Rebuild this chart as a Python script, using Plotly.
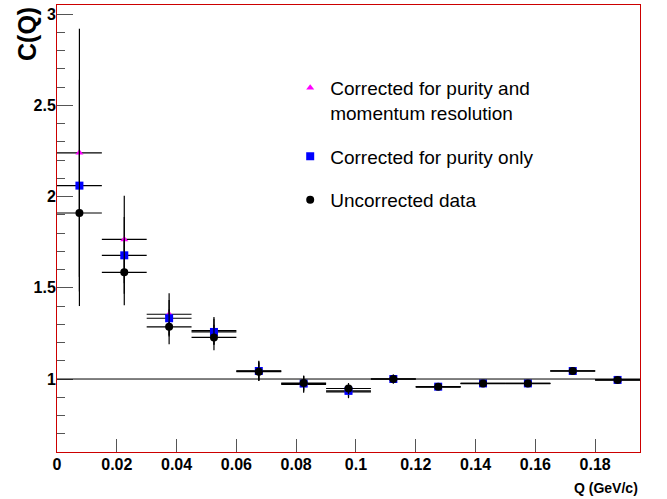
import plotly.graph_objects as go

# Bin centres (GeV/c) and half bin width
q_centers = [0.0075, 0.0225, 0.0375, 0.0525, 0.0675, 0.0825, 0.0975,
             0.1125, 0.1275, 0.1425, 0.1575, 0.1725, 0.1875]
q_halfwidth = [0.0075] * 13

# Corrected for purity and momentum resolution
c_full = [2.24, 1.765, 1.355, 1.265, 1.045, 0.970, 0.930, 1.000, 0.955, 0.975, 0.975, 1.045, 0.995]
e_full = [0.68, 0.24, 0.115, 0.075, 0.055, 0.045, 0.035, 0.025, 0.010, 0.012, 0.012, 0.012, 0.010]

# Corrected for purity only
c_purity = [2.06, 1.678, 1.333, 1.258, 1.044, 0.975, 0.935, 1.000, 0.958, 0.976, 0.976, 1.044, 0.995]
e_purity = [0.58, 0.21, 0.100, 0.072, 0.052, 0.043, 0.032, 0.024, 0.009, 0.011, 0.011, 0.011, 0.010]

# Uncorrected data
c_raw = [1.91, 1.585, 1.286, 1.228, 1.040, 0.978, 0.948, 1.000, 0.958, 0.976, 0.976, 1.044, 0.995]
e_raw = [0.51, 0.18, 0.095, 0.070, 0.050, 0.040, 0.030, 0.022, 0.008, 0.010, 0.010, 0.010, 0.009]

series_names = ["Corrected for purity and<br>momentum resolution",
                "Corrected for purity only",
                "Uncorrected data"]

x_tickvals = [0, 0.02, 0.04, 0.06, 0.08, 0.1, 0.12, 0.14, 0.16, 0.18]
x_ticktext = ["0", "0.02", "0.04", "0.06", "0.08", "0.1", "0.12", "0.14", "0.16", "0.18"]
y_tickvals = [1, 1.5, 2, 2.5, 3]
y_ticktext = ["1", "1.5", "2", "2.5", "3"]

FONT = "Liberation Sans, Arial, sans-serif"

fig = go.Figure()

styles = [
    dict(symbol="triangle-up", color="#ff00ff", size=7),
    dict(symbol="square", color="#0000ff", size=8),
    dict(symbol="circle", color="#000000", size=8),
]
data = [(c_full, e_full), (c_purity, e_purity), (c_raw, e_raw)]

for i, (name, (yv, ev), st) in enumerate(zip(series_names, data, styles)):
    fig.add_trace(go.Scatter(
        x=q_centers, y=yv, mode="markers", name=name, legendgroup=f"g{i}",
        marker=dict(symbol=st["symbol"], color=st["color"], size=st["size"], line=dict(width=0)),
        error_y=dict(type="data", array=ev, color="black", thickness=1.2, width=0),
        error_x=dict(type="data", array=q_halfwidth, color="black", thickness=1.2, width=0),
    ))

# Reference line at C(Q) = 1
fig.add_shape(type="line", xref="paper", x0=0, x1=1, yref="y", y0=1, y1=1,
              line=dict(color="black", width=1))

fig.update_layout(
    width=667, height=499,
    margin=dict(l=57, r=27, t=5, b=47, autoexpand=False),
    paper_bgcolor="white", plot_bgcolor="white",
    font=dict(family=FONT, color="black"),
    showlegend=True,
    legend=dict(x=0.40, y=0.857, xanchor="left", yanchor="top",
                bgcolor="rgba(0,0,0,0)", font=dict(size=19, family=FONT),
                tracegroupgap=16, valign="top"),
    xaxis=dict(range=[0, 0.195], tickvals=x_tickvals, ticktext=x_ticktext,
               ticks="inside", ticklen=13, tickcolor="#555", tickwidth=1,
               showgrid=False, zeroline=False, automargin=False,
               showline=True, linecolor="#cc0000", linewidth=1, mirror=True,
               ticklabelstandoff=-2, ticklabeloverflow="allow",
               tickfont=dict(size=16, family=FONT, weight="bold")),
    yaxis=dict(range=[0.6, 3.05], tickvals=y_tickvals, ticktext=y_ticktext,
               ticks="inside", ticklen=16, tickcolor="#555", tickwidth=1,
               minor=dict(dtick=0.1, tick0=0, ticks="inside", ticklen=8, tickcolor="#555"),
               showgrid=False, zeroline=False, automargin=False,
               showline=True, linecolor="#cc0000", linewidth=1, mirror=True,
               ticklabelstandoff=-3, ticklabeloverflow="allow",
               tickfont=dict(size=16, family=FONT, weight="bold")),
    annotations=[
        dict(text="<b>C(Q)</b>", textangle=-90, xref="paper", yref="paper",
             x=-0.0515, y=1.0, xanchor="center", yanchor="top", showarrow=False,
             font=dict(size=25, family=FONT)),
        dict(text="<b>Q (GeV/c)</b>", xref="paper", yref="paper",
             x=1.0, y=-0.0582, xanchor="right", yanchor="top", showarrow=False,
             font=dict(size=14, family=FONT)),
    ],
)

fig.write_html("out.html",
               config={"displayModeBar": False},
               post_script="document.body.style.margin='0';document.body.style.overflow='hidden';")
